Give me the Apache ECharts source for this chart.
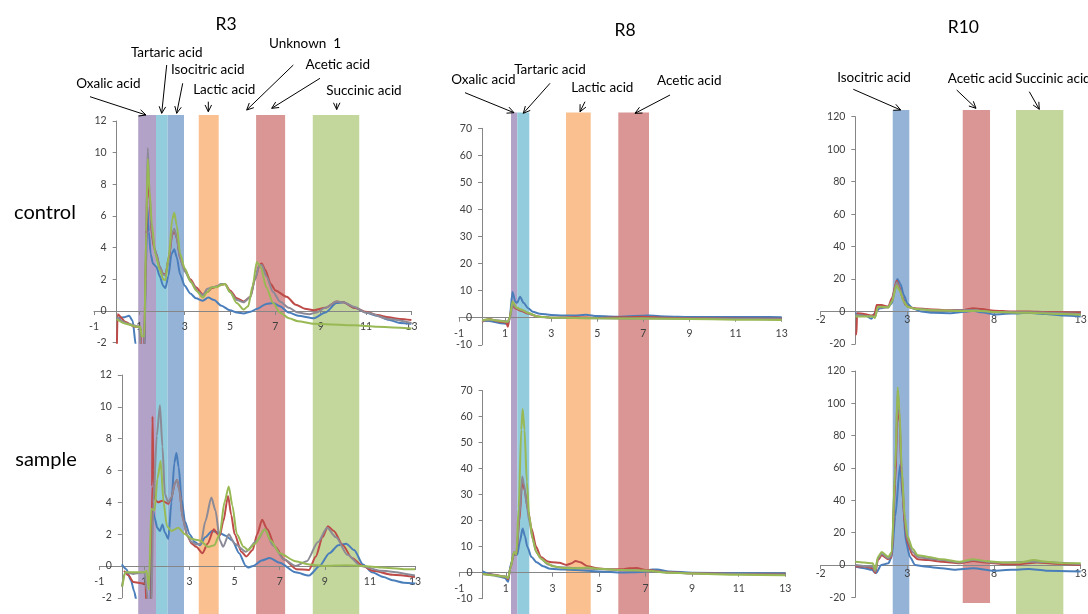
<!DOCTYPE html>
<html><head><meta charset="utf-8">
<script src="https://cdn.jsdelivr.net/npm/echarts@6/dist/echarts.min.js"></script>
<style>html,body{margin:0;padding:0;background:#fff}#c{width:1088px;height:614px}</style>
</head><body><div id="c"></div>
<script>
// ---------- tick labels ----------
const r3XTicks = [-1, 1, 3, 5, 7, 9, 11, 13];
const r8XTicks = [-1, 1, 3, 5, 7, 9, 11, 13];
const r10XTicks = [-2, 3, 8, 13];

// ---------- acid windows (retention time ranges) ----------
const r3Bands = [['Oxalic acid', 0.95, 1.735], ['Tartaric acid', 1.735, 2.25], ['Isocitric acid', 2.25, 2.97],
  ['Lactic acid', 3.62, 4.50], ['Acetic acid', 6.15, 7.43], ['Succinic acid', 8.65, 10.70]];
const r8Bands = [['Oxalic acid', 1.256, 1.529], ['Tartaric acid', 1.529, 2.05], ['Lactic acid', 3.642, 4.714], ['Acetic acid', 5.911, 7.243]];
const r10Bands = [['Isocitric acid', 2.155, 3.112], ['Acetic acid', 6.194, 7.769], ['Succinic acid', 9.269, 11.999]];

// ---------- R3 control ----------
const r3cBlue = [[0,-0.5],[0.3,-0.4],[0.55,-0.3],[0.7,-0.6],[0.85,-2.2],[0.95,-4],[1.2,-4],[1.28,2],[1.35,6.6],[1.42,5.0],[1.5,3.6],[1.6,3.0],[1.75,2.8],[1.9,2.2],[2.05,1.6],[2.15,1.45],[2.28,2.2],[2.42,3.6],[2.54,3.9],[2.65,3.4],[2.8,2.3],[3.0,1.6],[3.25,1.1],[3.5,0.8],[3.8,0.65],[4.04,0.85],[4.3,0.7],[4.6,0.35],[5.0,0.05],[5.3,-0.1],[5.6,-0.15],[5.9,-0.05],[6.2,0.15],[6.6,0.45],[6.9,0.5],[7.2,0.3],[7.6,-0.1],[8.0,-0.3],[8.7,-0.45],[9.2,-0.1],[9.7,0.5],[10.0,0.55],[10.5,0.2],[11,-0.1],[11.5,-0.3],[12.0,-0.55],[12.5,-0.75],[13,-0.8]];
const r3cRed = [[0,-3],[0.04,-0.2],[0.4,-0.7],[0.8,-1.0],[1.05,-1.0],[1.08,-3],[1.2,-3],[1.3,4],[1.36,8.8],[1.45,7.0],[1.55,4.8],[1.65,4.0],[1.75,3.6],[1.9,2.8],[2.05,2.35],[2.15,2.3],[2.3,3.3],[2.45,4.8],[2.54,5.1],[2.65,4.6],[2.8,3.3],[3.0,2.6],[3.25,2.0],[3.5,1.5],[3.8,1.05],[4.0,1.2],[4.2,1.45],[4.4,1.55],[4.6,1.65],[4.78,1.7],[5.0,1.3],[5.3,0.8],[5.6,0.6],[5.9,0.9],[6.1,2.0],[6.3,2.9],[6.4,3.0],[6.55,2.6],[6.8,1.7],[7.0,1.3],[7.5,0.9],[7.9,0.4],[8.3,0.15],[8.7,0.05],[9.2,0.2],[9.7,0.6],[10.0,0.55],[10.5,0.2],[11.0,-0.05],[11.5,-0.25],[12.0,-0.4],[12.5,-0.5],[13,-0.57]];
const r3cGrey = [[0,-0.4],[0.5,-0.8],[1.0,-1.0],[1.08,-3],[1.22,-3],[1.3,5],[1.37,10.3],[1.45,7.5],[1.55,5.0],[1.7,3.8],[1.9,2.8],[2.05,2.3],[2.15,2.25],[2.3,3.4],[2.45,4.9],[2.54,5.2],[2.65,4.6],[2.8,3.3],[3.0,2.5],[3.3,1.8],[3.6,1.2],[3.8,1.0],[4.0,1.4],[4.2,1.5],[4.4,1.55],[4.6,1.7],[4.78,1.7],[5.0,1.2],[5.3,0.7],[5.6,0.55],[5.9,0.9],[6.1,2.0],[6.3,2.9],[6.4,2.9],[6.6,2.2],[6.9,1.2],[7.2,0.6],[7.6,0.2],[8.0,-0.1],[8.5,-0.2],[8.8,-0.1],[9.2,0.2],[9.7,0.6],[10.0,0.55],[10.5,0.25],[11,-0.1],[12,-0.5],[13,-0.75]];
const r3cGreen = [[0,-0.5],[0.4,-0.8],[0.9,-1.0],[1.05,-1.0],[1.1,-1.6],[1.22,-1.6],[1.3,5],[1.37,9.6],[1.45,7.6],[1.55,5.5],[1.7,3.6],[1.9,2.6],[2.05,2.0],[2.15,1.95],[2.3,3.5],[2.45,5.8],[2.54,6.2],[2.65,5.4],[2.8,3.6],[3.0,2.7],[3.25,1.9],[3.5,1.3],[3.8,0.85],[4.0,1.2],[4.2,1.5],[4.4,1.5],[4.6,1.65],[4.78,1.7],[5.0,1.2],[5.3,0.5],[5.6,0.1],[5.8,0.3],[6.0,1.6],[6.18,3.1],[6.35,2.8],[6.6,1.5],[6.9,0.5],[7.2,-0.1],[7.6,-0.45],[8.0,-0.65],[8.7,-0.8],[9.5,-0.85],[10.5,-0.9],[11.5,-1.0],[12.5,-1.05],[13,-1.1]];

// ---------- R3 sample ----------
const r3sBlue = [[0,0.1],[0.2,-0.2],[0.4,-0.9],[0.55,-1.6],[0.65,-2.2],[0.7,-4],[1.25,-4],[1.32,2.5],[1.38,3.5],[1.46,3.0],[1.57,2.4],[1.69,2.2],[1.8,2.6],[1.91,2.1],[2.06,1.7],[2.2,4.0],[2.33,6.5],[2.42,7.1],[2.52,6.2],[2.65,4.2],[2.8,2.8],[3.0,2.0],[3.24,1.5],[3.46,1.3],[3.7,1.8],[4.0,2.2],[4.3,2.1],[4.6,1.9],[4.9,1.6],[5.2,0.8],[5.5,0.0],[5.6,-0.1],[5.82,0.0],[6.2,0.35],[6.56,0.5],[7.0,0.2],[7.7,-0.4],[8.3,-0.6],[8.77,0.0],[9.2,0.8],[9.6,1.3],[9.95,1.4],[10.3,1.0],[10.69,0.1],[11.1,-0.4],[11.6,-0.7],[12.0,-0.9],[12.5,-1.05],[13,-1.1]];
const r3sRed = [[0.1,-0.3],[0.3,-0.6],[0.5,-1.0],[0.95,-1.1],[1.05,-1.1],[1.1,-3],[1.3,-3],[1.34,5],[1.36,9.4],[1.4,6.0],[1.46,4.2],[1.6,4.0],[1.8,4.1],[2.06,3.9],[2.2,4.3],[2.35,5.2],[2.45,5.4],[2.55,4.8],[2.7,3.0],[2.9,1.9],[3.1,1.4],[3.3,1.2],[3.58,0.8],[3.8,1.4],[4.08,2.3],[4.25,2.0],[4.34,1.9],[4.5,2.8],[4.71,4.4],[4.85,3.2],[5.0,2.0],[5.3,0.9],[5.52,0.6],[5.8,1.0],[6.0,2.0],[6.22,2.9],[6.45,2.3],[6.8,1.2],[7.2,0.4],[7.74,-0.2],[8.3,-0.25],[8.6,0.6],[8.9,1.8],[9.14,2.5],[9.4,2.2],[9.8,1.3],[10.2,0.5],[10.69,0.0],[11.13,-0.3],[12.0,-0.55],[13,-0.7]];
const r3sGrey = [[0,-1.3],[0.15,-0.4],[0.5,-0.5],[1.0,-0.4],[1.1,-1.5],[1.2,-3],[1.3,-3],[1.4,4.0],[1.55,8.2],[1.69,10.1],[1.8,7.5],[1.91,4.5],[2.06,4.0],[2.2,4.3],[2.35,5.2],[2.45,5.4],[2.55,4.8],[2.7,3.0],[2.9,1.9],[3.1,1.5],[3.3,1.35],[3.5,1.4],[3.7,2.8],[3.97,4.3],[4.15,3.5],[4.35,1.6],[4.49,1.2],[4.74,2.0],[5.0,1.4],[5.5,0.9],[6.0,1.6],[6.34,2.3],[6.7,1.3],[7.2,0.4],[7.7,0.0],[8.2,0.3],[8.7,1.5],[9.1,2.4],[9.5,1.8],[10.0,0.7],[10.6,0.0],[11.5,-0.3],[13,-0.6]];
const r3sGreen = [[0.02,-1.3],[0.15,-0.4],[0.5,-0.4],[1.0,-0.4],[1.1,-0.3],[1.2,-1.5],[1.3,3.6],[1.45,3.5],[1.58,5.5],[1.72,6.6],[1.85,4.0],[2.0,2.5],[2.2,2.2],[2.5,2.4],[2.8,2.0],[3.1,1.7],[3.46,1.6],[3.83,1.2],[4.1,1.3],[4.34,2.0],[4.55,4.0],[4.74,5.0],[4.9,3.8],[5.1,2.0],[5.4,1.2],[5.6,1.0],[5.9,1.4],[6.34,2.3],[6.6,1.6],[7.0,0.8],[7.7,0.3],[8.3,0.1],[9.0,0.0],[9.95,0.05],[10.7,0.0],[11.5,-0.1],[12.5,-0.2],[13,-0.2]];

// ---------- R8 control ----------
const r8cBlue = [[0,-1],[0.3,-1.2],[0.8,-2],[1.1,-2.2],[1.2,0],[1.32,9.5],[1.45,5.8],[1.52,5.5],[1.65,7.8],[1.8,5.5],[2.0,3.5],[2.2,2.2],[2.5,1.5],[3.0,1.0],[3.5,0.8],[4.0,0.8],[4.5,1.1],[5.0,0.6],[6.0,0.4],[7.2,0.8],[8,0.5],[9,0.3],[10,0.3],[11,0.25],[12,0.3],[13,0.2]];
const r8cRed = [[0,-1.5],[0.3,-0.5],[0.8,-1.5],[1.05,-1.8],[1.12,-3.3],[1.2,0],[1.3,4.5],[1.5,3.2],[1.7,2.5],[2.0,1.5],[2.4,0.5],[3,0],[4,0.2],[5,-0.1],[7,0.4],[8,0],[9,-0.2],[13,-0.4]];
const r8cGrey = [[0,-1.2],[0.5,-0.8],[1.0,-1.2],[1.15,-1.5],[1.22,0],[1.32,5.0],[1.5,3.5],[1.8,2.5],[2.1,1.3],[2.5,0.3],[3,0],[5,-0.2],[7,-0.3],[13,-0.6]];
const r8cGreen = [[0,-1],[0.3,-0.6],[0.8,-1.2],[1.1,-1.5],[1.2,0],[1.32,6.0],[1.5,3.8],[1.7,3.0],[2.0,1.8],[2.4,0.5],[3,0],[4,-0.1],[5,-0.2],[7,-0.3],[9,-0.5],[11,-0.7],[13,-0.8]];

// ---------- R8 sample ----------
const r8sBlue = [[0,0.5],[0.3,-0.5],[0.7,-1.5],[0.96,-2],[1.1,-3.5],[1.2,3],[1.35,7],[1.49,7],[1.6,12],[1.72,17],[1.82,14],[1.92,10],[2.1,6],[2.32,4],[2.6,2.5],[2.9,1.5],[3.5,1.2],[4,1],[5,0.5],[6,0.1],[6.8,0.3],[7.3,1.2],[7.5,1.2],[8,0.5],[9,0],[11,-0.2],[13,-0.3]];
const r8sRed = [[0,-0.5],[0.5,-0.8],[0.96,-1.5],[1.1,-2.5],[1.2,2],[1.35,7.5],[1.45,7],[1.58,20],[1.7,35],[1.8,32],[1.95,24],[2.1,17],[2.3,10],[2.5,6],[2.8,4.3],[3.0,4.0],[3.3,3.8],[3.6,3.0],[3.8,3.5],[4.0,4.5],[4.2,4.0],[4.5,2.5],[5.0,1.6],[5.5,1.3],[6.0,1.3],[6.3,1.7],[6.6,1.8],[7.0,1.0],[8.0,0.2],[9,-0.2],[11,-0.5],[13,-0.7]];
const r8sGrey = [[0,-0.5],[0.5,-1],[0.96,-1.5],[1.1,-2],[1.2,2],[1.35,8],[1.45,7],[1.58,22],[1.7,37],[1.78,34],[1.9,26],[2.0,20],[2.15,13],[2.3,8],[2.5,5.5],[2.8,3.2],[3.2,2.2],[4,1.8],[5,1.4],[6,1.0],[7,0.7],[8,0.1],[9,-0.3],[13,-0.8]];
const r8sGreen = [[0,-0.5],[0.5,-1],[0.96,-1.5],[1.1,-2],[1.2,2],[1.35,8],[1.45,7],[1.55,25],[1.66,55],[1.72,63],[1.8,55],[1.9,35],[2.0,22],[2.15,13],[2.3,8],[2.5,5.5],[2.8,3.5],[3.0,2.5],[3.5,1.8],[4.0,1.7],[4.5,2.0],[5.0,1.5],[6.0,1.0],[7.0,0.8],[8.0,0],[9,-0.3],[11,-0.8],[13,-1]];

// ---------- R10 control ----------
const r10cBlue = [[0,-1],[0.5,-2],[0.94,-4.5],[1.1,-1],[1.42,2],[1.9,3],[2.1,5],[2.25,12],[2.42,20],[2.6,17],[2.8,10],[3.0,5],[3.3,2],[3.8,0],[4.5,-0.8],[5.5,-1],[6.3,-0.2],[6.8,0.5],[7.3,-0.5],[8.0,-1.8],[9.0,-1.2],[10,-0.8],[11,-1.5],[12,-2.5],[13,-3]];
const r10cRed = [[0,-14],[0.06,-14],[0.1,-1],[0.5,-1.5],[0.9,-2.5],[1.1,-2],[1.23,4],[1.5,4],[1.9,3],[2.1,8],[2.38,19],[2.55,15],[2.67,10],[2.9,4],[3.15,2.5],[3.6,1.8],[4.5,1.2],[5.5,0.8],[6.3,1.0],[6.8,2.0],[7.3,1.5],[8,0.5],[9,0],[10,0],[11,-0.3],[12,-0.5],[13,-0.6]];
const r10cGrey = [[0,-2],[1.0,-3],[1.13,-3.5],[1.3,2.5],[1.9,2.5],[2.1,6],[2.38,18],[2.55,14],[2.8,6],[3.0,3],[3.5,1.5],[5,0.5],[6.8,1.0],[8,-0.5],[10,-0.5],[13,-1.5]];
const r10cGreen = [[0,-3],[0.5,-3],[1.0,-3],[1.13,-4],[1.3,3],[1.5,3],[1.9,2.5],[2.1,6],[2.38,16],[2.55,13],[2.8,6],[3.0,3],[3.5,1.5],[4.5,0.8],[6.5,0.3],[7.0,0.5],[8,-0.3],[10,-0.8],[12,-1.5],[13,-2]];

// ---------- R10 sample ----------
const r10sBlue = [[0,-1],[0.5,-2],[0.94,-3],[1.19,-5],[1.5,0],[1.9,1],[2.1,5],[2.3,30],[2.58,62],[2.75,40],[2.9,15],[3.15,5],[3.44,0],[4,-1],[5,-2],[5.7,-3],[6.8,-2],[8,-3.5],[9,-3],[10,-2.5],[11,-3.5],[13,-4]];
const r10sRed = [[0,-1],[0.5,-1],[1.0,-2],[1.15,-5],[1.3,3],[1.52,6],[1.9,3.5],[2.1,5],[2.3,50],[2.44,100],[2.55,88],[2.67,55],[2.85,25],[3.0,14],[3.3,6],[3.6,3.5],[4.2,3],[5,2],[6,1],[6.8,2.5],[7.5,1.5],[8.5,0.5],[9.5,0.5],[10.5,1.5],[11.5,0.8],[13,0]];
const r10sGrey = [[0,0],[1.0,-1],[1.15,-4],[1.3,4],[1.52,7],[1.9,4],[2.1,6],[2.3,60],[2.44,108],[2.55,92],[2.67,58],[2.85,28],[3.0,16],[3.3,8],[3.6,5],[4.2,4],[5,3],[6,1.5],[6.8,3],[8,1.5],[10.3,2],[13,0.5]];
const r10sGreen = [[0,2],[0.5,1.5],[1.0,1],[1.15,-3],[1.3,5],[1.52,8],[1.9,5],[2.1,8],[2.3,60],[2.44,110],[2.55,95],[2.67,60],[2.85,30],[3.0,18],[3.3,10],[3.6,6],[4.2,5],[5,3.5],[6,2],[6.8,3.5],[7.5,2.5],[8.5,1.5],[9.5,1.5],[10.3,3],[11,2],[12,1],[13,1]];

// ---------- styles & layout ----------
const LINE_COLORS = { blue: '#4A7EBB', red: '#BE4B48', grey: '#8B8A96', green: '#98B954' };
const BAND_COLORS = { 'Oxalic acid': '#B3A2C7', 'Tartaric acid': '#93CDDD', 'Isocitric acid': '#95B3D7',
  'Lactic acid': '#FAC090', 'Acetic acid': '#D99694', 'Succinic acid': '#C3D69B' };
const FONT = 'Lato';
const AXIS_COLOR = '#868686';
const LABEL_COLOR = '#404040';

const panels = [
  { rect: [94, 121, 317.4, 221.7], x: [-1, 13], ticks: r3XTicks, y: [-2, 12, 2], xMargin: 10,
    lines: { blue: r3cBlue, red: r3cRed, grey: r3cGrey, green: r3cGreen } },
  { rect: [99.3, 375, 315.7, 222.8], x: [-1, 13], ticks: r3XTicks, y: [-2, 12, 2], xMargin: 10,
    lines: { blue: r3sBlue, red: r3sRed, grey: r3sGrey, green: r3sGreen } },
  { rect: [459, 128.3, 322.7, 216.5], x: [-1, 13], ticks: r8XTicks, y: [-10, 70, 10], xMargin: 10,
    lines: { blue: r8cBlue, red: r8cRed, grey: r8cGrey, green: r8cGreen } },
  { rect: [459.3, 390.7, 326, 208], x: [-1, 13], ticks: r8XTicks, y: [-10, 70, 10], xMargin: 10,
    lines: { blue: r8sBlue, red: r8sRed, grey: r8sGrey, green: r8sGreen } },
  { rect: [820.7, 116.7, 260, 227.3], x: [-2, 13], ticks: r10XTicks, y: [-20, 120, 20], xMargin: 3,
    lines: { blue: r10cBlue, red: r10cRed, grey: r10cGrey, green: r10cGreen } },
  { rect: [820.7, 371, 260, 226.3], x: [-2, 13], ticks: r10XTicks, y: [-20, 120, 20], xMargin: 3,
    lines: { blue: r10sBlue, red: r10sRed, grey: r10sGrey, green: r10sGreen } }
];
const bandColumns = [
  { rect: [94, 115, 317.4, 499], x: [-1, 13], bands: r3Bands, bottoms: {} },
  { rect: [459, 112.5, 322.7, 501.5], x: [-1, 13], bands: r8Bands, bottoms: {} },
  { rect: [820.7, 110, 260, 504], x: [-2, 13], bands: r10Bands, bottoms: { 'Acetic acid': 0.022 } }
];

const grid = [], xAxis = [], yAxis = [], series = [];
panels.forEach((p, i) => {
  const [left, top, width, height] = p.rect;
  // axes cross at the zero of the other axis (Excel style): shift from the grid edge by the scale
  const xOffset = -height * (0 - p.y[0]) / (p.y[1] - p.y[0]);
  const yOffset = -width * (0 - p.x[0]) / (p.x[1] - p.x[0]);
  grid.push({ left, top, width, height, containLabel: false, outerBoundsMode: 'none' });
  xAxis.push({ type: 'value', gridIndex: i, min: p.x[0], max: p.x[1], z: 2, position: 'bottom', offset: xOffset,
    axisLine: { show: true, onZero: false, lineStyle: { color: AXIS_COLOR, width: 1 } },
    axisTick: { show: true, customValues: p.ticks, length: 4, lineStyle: { color: AXIS_COLOR } },
    axisLabel: { customValues: p.ticks, margin: p.xMargin, fontSize: 10.5, color: LABEL_COLOR, fontFamily: FONT },
    splitLine: { show: false } });
  yAxis.push({ type: 'value', gridIndex: i, min: p.y[0], max: p.y[1], interval: p.y[2], z: 2, position: 'left', offset: yOffset,
    axisLine: { show: true, onZero: false, lineStyle: { color: AXIS_COLOR, width: 1 } },
    axisTick: { show: true, length: 4, lineStyle: { color: AXIS_COLOR } },
    axisLabel: { margin: 10, fontSize: 10.5, color: LABEL_COLOR, fontFamily: FONT },
    splitLine: { show: false } });
  ['blue', 'red', 'grey', 'green'].forEach(k => {
    series.push({ type: 'line', xAxisIndex: i, yAxisIndex: i, data: p.lines[k], symbol: 'none', showSymbol: false,
      smooth: 0.25, smoothMonotone: 'x', clip: true, silent: true, z: 3,
      lineStyle: { color: LINE_COLORS[k], width: 2 }, itemStyle: { color: LINE_COLORS[k] } });
  });
});
bandColumns.forEach((b, j) => {
  const gi = panels.length + j;
  grid.push({ left: b.rect[0], top: b.rect[1], width: b.rect[2], height: b.rect[3], containLabel: false, outerBoundsMode: 'none' });
  xAxis.push({ type: 'value', gridIndex: gi, min: b.x[0], max: b.x[1], show: false });
  yAxis.push({ type: 'value', gridIndex: gi, min: 0, max: 1, show: false });
  series.push({ type: 'custom', xAxisIndex: gi, yAxisIndex: gi, silent: true, z: 1,
    data: b.bands.map(d => [d[1], d[2], b.bottoms[d[0]] || 0, 1]),
    encode: { x: [0, 1], y: [2, 3] },
    renderItem: (params, api) => {
      const name = b.bands[params.dataIndex][0];
      const p1 = api.coord([api.value(0), api.value(3)]);
      const p2 = api.coord([api.value(1), api.value(2)]);
      return { type: 'rect', shape: { x: p1[0], y: p1[1], width: p2[0] - p1[0], height: p2[1] - p1[1] },
        style: { fill: BAND_COLORS[name] } };
    } });
});

// ---------- annotations ----------
const titles = [['R3', 226, 24], ['R8', 625, 30], ['R10', 963.3, 27.3]];
const rowLabels = [['control', 45, 213], ['sample', 46, 460]];
const notes = [
  ['Oxalic acid', 108.3, 83.3, 90, 96.7, 146, 115],
  ['Tartaric acid', 166.7, 52.3, 166.7, 65, 161.7, 113.3],
  ['Isocitric acid', 207.7, 70, 182.7, 83.3, 176.7, 113.3],
  ['Lactic acid', 224.3, 89.3, 208.3, 101.7, 208.3, 111.7],
  ['Unknown  1', 305, 43.3, 293.3, 65, 246.7, 110],
  ['Acetic acid', 337.7, 65, 320, 78.3, 271.7, 108.3],
  ['Succinic acid', 364, 90.7, 336.7, 103.3, 336.7, 109.5],
  ['Oxalic acid', 483.3, 80, 465, 92.7, 514, 112.7],
  ['Tartaric acid', 550, 69.3, 550, 83.3, 523.3, 113.3],
  ['Lactic acid', 602.3, 87.3, 585, 101.7, 580, 111.7],
  ['Acetic acid', 689.3, 80.7, 670, 95, 635, 113.3],
  ['Isocitric acid', 874, 77.3, 853.3, 89.3, 900.7, 110],
  ['Acetic acid', 980, 78.3, 956.7, 90, 976, 108.3],
  ['Succinic acid', 1053, 79, 1029.3, 91.7, 1039.3, 109.3]
];
function txt(t, x, y, size) {
  return { type: 'text', x: x, y: y, z: 100, silent: true,
    style: { text: t, fontSize: size, fontFamily: FONT, fill: '#000', align: 'center', verticalAlign: 'middle',
      textAlign: 'center', textVerticalAlign: 'middle' } };
}
function arrow(x1, y1, x2, y2) {
  const a = Math.atan2(y2 - y1, x2 - x1), L = 7.5, w = 0.45;
  const h1 = [x2 - L * Math.cos(a - w), y2 - L * Math.sin(a - w)];
  const h2 = [x2 - L * Math.cos(a + w), y2 - L * Math.sin(a + w)];
  return [
    { type: 'line', z: 100, silent: true, shape: { x1: x1, y1: y1, x2: x2, y2: y2 }, style: { stroke: '#000', lineWidth: 1 } },
    { type: 'polyline', z: 100, silent: true, shape: { points: [h1, [x2, y2], h2] }, style: { stroke: '#000', lineWidth: 1, fill: null } }
  ];
}
const graphic = [];
titles.forEach(t => graphic.push(txt(t[0], t[1], t[2], 17.5)));
rowLabels.forEach(t => graphic.push(txt(t[0], t[1], t[2], 20)));
notes.forEach(n => { graphic.push(txt(n[0], n[1], n[2], 13.5)); graphic.push(...arrow(n[3], n[4], n[5], n[6])); });

const chart = echarts.init(document.getElementById('c'), null, { renderer: 'canvas' });
chart.setOption({ animation: false, backgroundColor: '#fff', grid, xAxis, yAxis, series, graphic });
</script></body></html>
